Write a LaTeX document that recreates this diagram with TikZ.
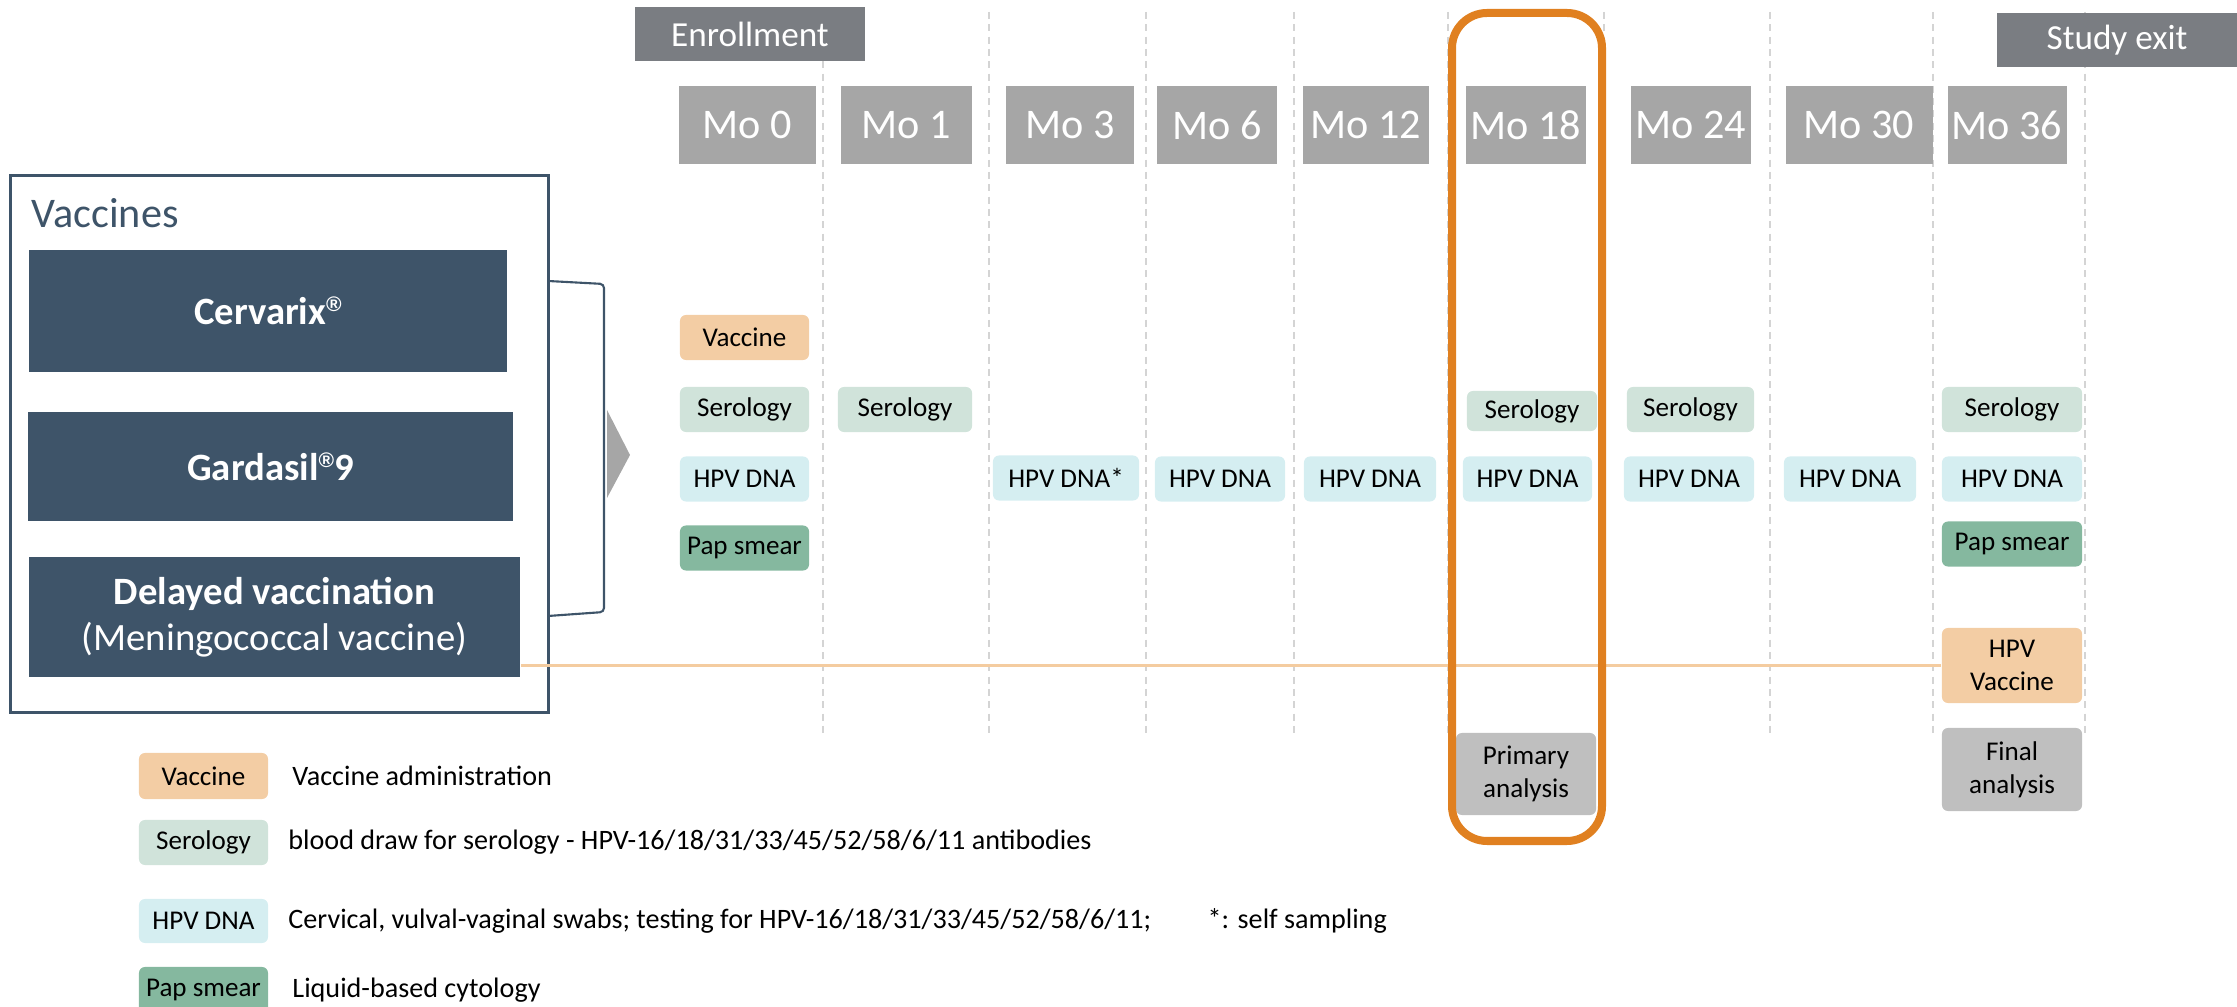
\documentclass[tikz,border=0pt]{standalone}
\usepackage{fontspec}
\setmainfont{Carlito}
\newfontfamily\regfont{Liberation Sans}
\usepackage{xcolor}
\usepackage{tikz}
\usetikzlibrary{positioning}
\definecolor{SlateBlue}{RGB}{62,84,105}
\definecolor{MonthGray}{RGB}{166,166,166}
\definecolor{PhaseGray}{RGB}{122,125,130}
\definecolor{VacFill}{RGB}{243,205,164}
\definecolor{SeroFill}{RGB}{208,227,218}
\definecolor{DnaFill}{RGB}{213,238,241}
\definecolor{PapFill}{RGB}{133,184,159}
\definecolor{AnaFill}{RGB}{191,191,191}
\definecolor{HlOrange}{RGB}{224,128,32}
\definecolor{VacLine}{RGB}{244,204,160}
\definecolor{SepGray}{RGB}{212,212,212}
\newcommand{\regmark}{\raisebox{3.8pt}{\regfont\bfseries\fontsize{6}{6}\selectfont ®}}

\begin{document}
\begin{tikzpicture}[x=0.01cm,y=-0.01cm,
    monthbox/.style={fill=MonthGray, text=white, font=\fontsize{12}{14}\selectfont, minimum height=0.78cm, inner sep=0pt},
    phasebox/.style={fill=PhaseGray, text=white, font=\fontsize{10}{12}\selectfont, minimum height=0.54cm, inner sep=0pt},
    armbox/.style={fill=SlateBlue, text=white, font=\fontsize{11}{13}\selectfont, align=center, inner sep=0pt},
    task/.style={rounded corners=0.06cm, inner sep=0pt, minimum height=0.45cm, font=\fontsize{7.7}{9.5}\selectfont, align=center},
    vac/.style={task, fill=VacFill},
    sero/.style={task, fill=SeroFill},
    dna/.style={task, fill=DnaFill},
    pap/.style={task, fill=PapFill},
    ana/.style={task, fill=AnaFill},
    legtext/.style={anchor=west, inner sep=0pt, font=\fontsize{8}{10}\selectfont},
    sepline/.style={SepGray, line width=0.4pt, dash pattern=on 2pt off 1.5pt}]
  \useasboundingbox (0,0) rectangle (2237,1007);

  % month grid
  \foreach \sx in {823,989,1146,1294,1448,1604,1770,1933,2085}
    \draw[sepline] (\sx,12) -- (\sx,735);
  \node[phasebox, minimum width=2.29cm] (enroll) at (750,34) {Enrollment};
  \node[phasebox, minimum width=2.40cm] (exit) at (2117,40) {Study exit};
  \foreach \nm/\cx/\w/\lbl in {m0/747/137/Mo 0, m1/906/131/Mo 1, m3/1070/128/Mo 3, m6/1217/120/Mo 6,
      m12/1366/126/Mo 12, m18/1526/120/Mo 18, m24/1691/120/Mo 24, m30/1859/147/Mo 30, m36/2007/119/Mo 36}
    \node[monthbox, minimum width=\w*0.01cm] (\nm) at (\cx,125) {\lbl};

  % arms
  \node[draw=SlateBlue, line width=0.85pt, minimum width=5.37cm, minimum height=5.36cm] (vbox) at (279.5,444) {};
  \node[anchor=base west, inner sep=0pt, text=SlateBlue, font=\fontsize{12}{14}\selectfont] (vtitle) at (31,228) {Vaccines};
  \node[armbox, minimum width=4.78cm, minimum height=1.22cm] (cerv) at (268,311) {\textbf{Cervarix\regmark}};
  \node[armbox, minimum width=4.85cm, minimum height=1.09cm] (gard) at (270.5,466.5) {\textbf{Gardasil\regmark9}};
  \node[armbox, minimum width=4.91cm, minimum height=1.20cm] (delay) at (274.5,617) {\textbf{Delayed vaccination}\\(Meningococcal vaccine)};
  \coordinate (brtop) at (548,281);
  \coordinate (brbot) at (548,616);
  \draw[SlateBlue, line width=0.6pt, rounded corners=0.04cm] (brtop) -- (604,284) -- (604,612) -- (brbot);
  \fill[MonthGray] (607,410) -- (630,455) -- (607,498) -- cycle;

  % visits
  \node[vac, minimum width=1.29cm] (vac0) at (744.5,337.5) {Vaccine};
  \node[sero, minimum width=1.29cm] (sero0) at (744.5,409.5) {Serology};
  \node[dna, minimum width=1.29cm] (dna0) at (744.5,479) {HPV DNA};
  \node[pap, minimum width=1.29cm] (pap0) at (744.5,548) {Pap smear};
  \node[sero, minimum width=1.34cm] (sero1) at (905,409.5) {Serology};
  \node[dna, minimum width=1.46cm] (dna3) at (1066,478) {HPV DNA*};
  \node[dna, minimum width=1.30cm] (dna6) at (1220,479) {HPV DNA};
  \node[dna, minimum width=1.32cm] (dna12) at (1370,479) {HPV DNA};
  \node[sero, minimum width=1.30cm, minimum height=0.40cm] (sero18) at (1532,411) {Serology};
  \node[dna, minimum width=1.29cm] (dna18) at (1527.5,479) {HPV DNA};
  \node[ana, minimum width=1.40cm, minimum height=0.82cm] (prim) at (1526,774) {Primary\\analysis};
  \node[sero, minimum width=1.27cm] (sero24) at (1690.5,409.5) {Serology};
  \node[dna, minimum width=1.30cm] (dna24) at (1689,479) {HPV DNA};
  \node[dna, minimum width=1.32cm] (dna30) at (1850,479) {HPV DNA};
  \node[sero, minimum width=1.40cm] (sero36) at (2012,409.5) {Serology};
  \node[dna, minimum width=1.40cm] (dna36) at (2012,479) {HPV DNA};
  \node[pap, minimum width=1.40cm] (pap36) at (2012,544) {Pap smear};
  \node[vac, minimum width=1.40cm, minimum height=0.75cm] (hpvvac) at (2012,665.5) {HPV\\Vaccine};
  \node[ana, minimum width=1.40cm, minimum height=0.83cm] (final) at (2012,769.5) {Final\\analysis};

  \draw[VacLine, line width=0.8pt] (hpvvac.west -| delay.east) -- (hpvvac.west);
  \draw[HlOrange, line width=0.08cm, rounded corners=0.35cm] (1452,13) rectangle (1602,841);

  % legend
  \node[vac, minimum width=1.29cm, minimum height=0.46cm] (legvac) at (203.5,776) {Vaccine};
  \node[legtext, right=0.23cm of legvac] (legvactxt) {Vaccine administration};
  \node[sero, minimum width=1.29cm] (legsero) at (203.5,842.5) {Serology};
  \node[legtext, right=0.19cm of legsero] (legserotxt) {blood draw for serology - HPV-16/18/31/33/45/52/58/6/11 antibodies};
  \node[dna, minimum width=1.29cm, minimum height=0.44cm] (legdna) at (203.5,921) {HPV DNA};
  \node[legtext, right=0.19cm of legdna] (legdnatxt) {Cervical, vulval-vaginal swabs; testing for HPV-16/18/31/33/45/52/58/6/11;};
  \node[legtext] (legstar) at (1207,921) {*: self sampling};
  \node[pap, minimum width=1.29cm, minimum height=0.46cm] (legpap) at (203.5,990) {Pap smear};
  \node[legtext, right=0.23cm of legpap] (legpaptxt) {Liquid-based cytology};
\end{tikzpicture}
\end{document}
